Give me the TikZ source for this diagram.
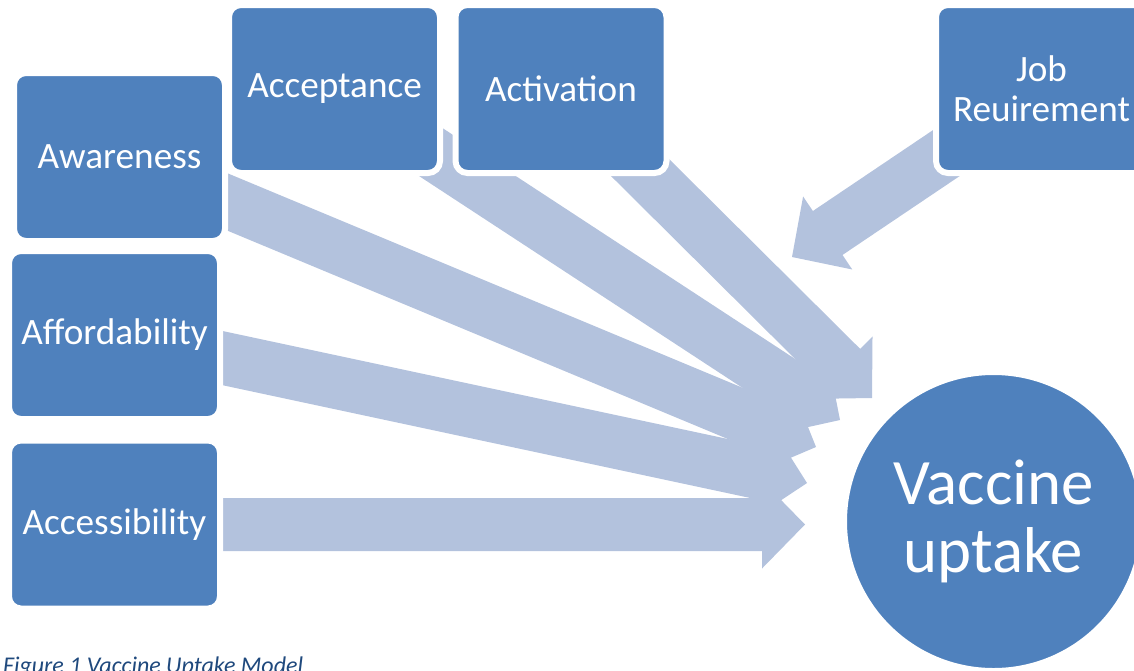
\documentclass[tikz,border=0pt]{standalone}
\usepackage{fontspec}
\setmainfont{Carlito}
\usetikzlibrary{calc}

\pgfdeclarelayer{back}
\pgfsetlayers{back,main}

\definecolor{boxblue}{RGB}{79,129,189}
\definecolor{arrowblue}{RGB}{179,194,221}
\definecolor{capblue}{RGB}{31,73,125}

\tikzset{
  factor/.style={rectangle, rounded corners=6pt, fill=boxblue, draw=white, line width=3pt,
    minimum width=105.5pt, minimum height=84pt, inner sep=0pt, align=center,
    text=white, font=\fontsize{18.6}{20}\selectfont},
  outcome/.style={circle, fill=boxblue, draw=white, line width=3pt, minimum size=149.5pt,
    inner sep=0pt, align=center, text=white, font=\fontsize{32.4}{34}\selectfont},
  fat/.style={fill=arrowblue}
}

\begin{document}
\begin{tikzpicture}[x=0.5pt, y=-0.5pt]
        \useasboundingbox (0,0) rectangle (1134,670);
        % the factors
        \node[factor] (aware) at (119.5,157) {Awareness};
        \node[factor] (afford) at (114.5,335) {Affordability};
        \node[factor] (access) at (114.5,524.5) {Accessibility};
        \node[factor] (accept) at (334.5,89) {Acceptance};
        \node[factor] (activ) at (561,89) {Activation};
        \node[factor] (job) at (1041.5,89) {Job\\Reuirement};
        \node[outcome] (uptake) at (993.5,521.5) {Vaccine\\uptake};
        % arrow tips
        \coordinate (taware) at (816,447);
        \coordinate (tafford) at (807,483);
        \coordinate (taccess) at (805,524.5);
        \coordinate (taccept) at (840,420);
        \coordinate (tactiv) at (872,398);
        \coordinate (tjob) at (792,257);
        % block arrows behind the boxes
        \begin{pgfonlayer}{back}
        \foreach \src/\dst in {aware/taware, afford/tafford, access/taccess,
                               accept/taccept, activ/tactiv, job/tjob} {
            \coordinate (h) at ($(\dst)!21.5pt!(\src.center)$);
            \fill[fat] ($(\src.center)!13.25pt!90:(\dst)$) -- ($(h)!13.25pt!90:(\dst)$)
                -- ($(h)!22pt!90:(\dst)$) -- (\dst) -- ($(h)!22pt!270:(\dst)$)
                -- ($(h)!13.25pt!270:(\dst)$) -- ($(\src.center)!13.25pt!270:(\dst)$) -- cycle;
        }
        \end{pgfonlayer}
        \node[anchor=base west, text=capblue, font=\fontsize{12}{14}\selectfont\itshape] (cap)
            at (-4,673) {Figure 1 Vaccine Uptake Model};
    \end{tikzpicture}
\end{document}
